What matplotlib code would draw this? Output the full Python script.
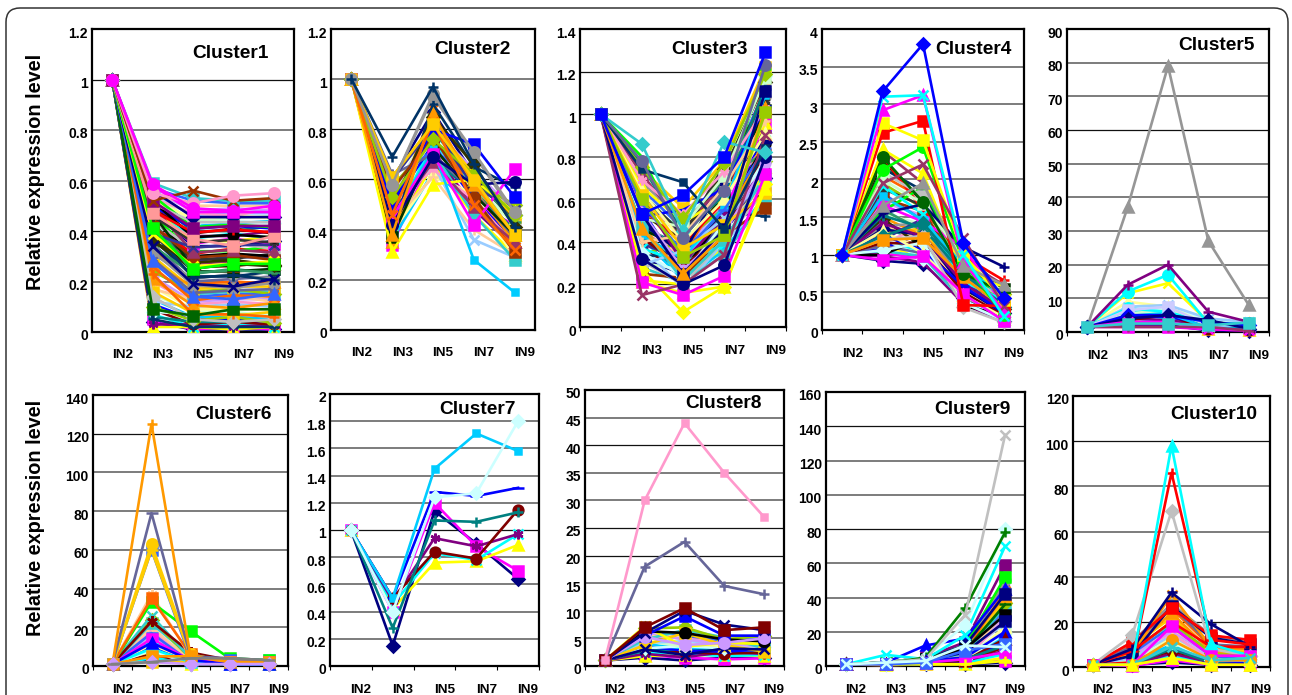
import matplotlib
matplotlib.use('Agg')
import matplotlib.pyplot as plt
from matplotlib.patches import FancyBboxPatch
from matplotlib.transforms import ScaledTranslation, IdentityTransform

plt.rcParams['font.family'] = ['Liberation Sans', 'DejaVu Sans']
plt.rcParams['font.weight'] = 'bold'

W, H = 1292, 695
stages = ['IN2', 'IN3', 'IN5', 'IN7', 'IN9']

# excel default series colours / markers
colors = ['#000080', '#FF00FF', '#FFFF00', '#00FFFF', '#800080', '#800000', '#008080', '#0000FF',
          '#00CCFF', '#CCFFFF', '#CCFFCC', '#FFFF99', '#99CCFF', '#FF99CC', '#CC99FF', '#FFCC99',
          '#3366FF', '#33CCCC', '#99CC00', '#FFCC00', '#FF9900', '#FF6600', '#666699', '#969696',
          '#003366', '#339966', '#003300', '#333300', '#993300', '#993366', '#333399', '#333333',
          '#000000', '#FF0000', '#00FF00', '#C0C0C0']
markers = ['D', 's', '^', 'x', (6, 2, 0), 'o', '+', '_', 's']

# cluster 1
c1_rows = [
    [1, .04, .01, .01, .01], [1, .05, .01, .02, .01], [1, .02, .02, .01, .02], [1, .07, .02, .03, .02],
    [1, .03, .03, .02, .03], [1, .09, .03, .04, .03], [1, .06, .04, .04, .05], [1, .11, .05, .05, .04],
    [1, .13, .06, .06, .05], [1, .08, .07, .07, .07], [1, .15, .08, .08, .06], [1, .18, .09, .09, .09],
    [1, .12, .10, .11, .10], [1, .20, .11, .12, .11], [1, .22, .12, .13, .13], [1, .17, .13, .14, .12],
    [1, .25, .14, .15, .15], [1, .28, .15, .16, .16], [1, .24, .16, .17, .15], [1, .30, .17, .18, .18],
    [1, .27, .18, .19, .20], [1, .33, .19, .20, .19], [1, .35, .20, .21, .22], [1, .31, .21, .23, .21],
    [1, .37, .22, .22, .24], [1, .34, .23, .25, .23], [1, .39, .24, .24, .25], [1, .36, .25, .27, .26],
    [1, .41, .26, .26, .28], [1, .38, .27, .28, .27], [1, .43, .28, .30, .29], [1, .40, .29, .29, .31],
    [1, .45, .30, .31, .30], [1, .42, .31, .33, .32], [1, .46, .32, .32, .34], [1, .44, .33, .35, .33],
    [1, .48, .34, .34, .36], [1, .47, .35, .37, .35], [1, .49, .36, .36, .38], [1, .50, .37, .39, .37],
    [1, .51, .38, .38, .40], [1, .49, .39, .41, .39], [1, .52, .40, .40, .42], [1, .50, .41, .42, .41],
    [1, .53, .42, .43, .44], [1, .51, .43, .44, .43], [1, .54, .44, .45, .46], [1, .52, .45, .46, .45],
    [1, .55, .46, .47, .47], [1, .53, .47, .46, .49], [1, .56, .48, .49, .48], [1, .55, .50, .50, .50],
    [1, .57, .52, .51, .51], [1, .59, .53, .52, .52],
    [1, .10, .045, .06, .035], [1, .16, .075, .065, .08], [1, .21, .105, .095, .115], [1, .26, .125, .145, .14],
    [1, .29, .155, .165, .17], [1, .32, .185, .175, .195], [1, .40, .215, .225, .205], [1, .44, .235, .245, .235],
    [1, .47, .255, .265, .275], [1, .36, .275, .285, .265], [1, .42, .295, .305, .285], [1, .50, .315, .325, .315],
    [1, .39, .335, .345, .345], [1, .46, .355, .365, .355], [1, .52, .375, .385, .375], [1, .48, .395, .405, .395],
    [1, .54, .415, .425, .415], [1, .51, .435, .435, .435], [1, .56, .455, .455, .455], [1, .58, .475, .475, .475],
]
c1_top = [[1, .05, .02, .02, .02], [1, .14, .05, .04, .05], [1, .23, .07, .07, .06], [1, .09, .065, .09, .09],
          [1, .28, .14, .13, .15], [1, .34, .19, .18, .21], [1, .39, .26, .27, .28], [1, .41, .25, .27, .27],
          [1, .47, .37, .34, .38], [1, .52, .41, .42, .42], [1, .52, .56, .52, .53], [1, .55, .51, .54, .55],
          [1, .585, .49, .48, .50]]
c1_top_colors = ['#003366', '#C0C0C0', '#FF6600', '#006600', '#3366FF', '#000080', '#FFFF00', '#00FF00', '#FF9999',
                 '#800080', '#993300', '#FF99CC', '#FF00FF']
c1_top_markers = ['+', 'D', '+', 's', '^', 'x', 'x', 's', 's', 's', 'x', 'o', 'o']

# cluster 2
c2_rows = [
    [1, .60, .87, .62, .46], [1, .34, .70, .50, .42], [1, .38, .66, .46, .30], [1, .42, .75, .57, .37],
    [1, .40, .72, .48, .33], [1, .44, .82, .60, .44], [1, .47, .68, .55, .40], [1, .50, .74, .52, .36],
    [1, .36, .63, .50, .32], [1, .48, .78, .63, .46], [1, .53, .84, .58, .42], [1, .39, .62, .54, .29],
    [1, .46, .66, .36, .29], [1, .50, .64, .52, .34], [1, .55, .80, .64, .47], [1, .43, .61, .40, .30],
    [1, .58, .72, .60, .38], [1, .41, .71, .46, .28], [1, .57, .76, .59, .50], [1, .61, .82, .62, .45],
    [1, .35, .87, .56, .35], [1, .46, .88, .51, .33], [1, .62, .70, .55, .37], [1, .58, .93, .70, .46],
    [1, .39, .90, .65, .57], [1, .52, .79, .61, .43], [1, .37, .73, .54, .38], [1, .49, .85, .66, .41],
    [1, .56, .77, .53, .31], [1, .45, .67, .49, .35], [1, .60, .81, .57, .48],
]
c2_top = [[1, .31, .58, .60, .47], [1, .44, .72, .28, .15], [1, .50, .80, .74, .53], [1, .45, .70, .42, .64],
          [1, .42, .69, .58, .59], [1, .53, .76, .62, .46], [1, .38, .86, .58, .38], [1, .46, .83, .50, .32],
          [1, .61, .82, .60, .38], [1, .58, .94, .71, .47], [1, .69, .97, .66, .41]]
c2_top_colors = ['#FFFF00', '#00CCFF', '#0000FF', '#FF00FF', '#000080', '#99CC00', '#FF9900', '#FF6600', '#FFCC00',
                 '#969696', '#003366']
c2_top_markers = ['^', 's', 's', 's', 'o', 'D', '^', 'x', 's', 'o', '+']

# cluster 3
c3_rows = [
    [1, .32, .25, .45, .70], [1, .50, .30, .55, .95], [1, .22, .20, .38, .75], [1, .40, .33, .52, .88],
    [1, .60, .42, .70, 1.05], [1, .36, .28, .42, .65], [1, .47, .38, .60, 1.10], [1, .55, .26, .50, .92],
    [1, .42, .22, .36, .62], [1, .62, .48, .72, 1.18], [1, .30, .27, .46, .80], [1, .70, .52, .75, 1.00],
    [1, .38, .18, .40, .58], [1, .58, .44, .63, .85], [1, .44, .36, .58, .72], [1, .52, .31, .48, .66],
    [1, .65, .46, .68, 1.12], [1, .28, .21, .34, .60], [1, .34, .40, .56, .78], [1, .74, .56, .78, 1.22],
    [1, .48, .24, .44, .90], [1, .57, .34, .64, .98], [1, .41, .29, .50, .68], [1, .68, .50, .66, 1.08],
    [1, .33, .35, .54, .52], [1, .60, .45, .70, .82], [1, .46, .37, .62, 1.02], [1, .53, .41, .74, 1.15],
    [1, .25, .23, .43, .56], [1, .72, .47, .67, .94], [1, .39, .32, .47, .75], [1, .63, .43, .76, 1.06],
    [1, .45, .26, .53, .86], [1, .56, .39, .59, 1.14], [1, .80, .42, .64, 1.21], [1, .31, .20, .41, .64],
    [1, .49, .34, .69, .87], [1, .59, .33, .43, 1.00], [1, .66, .49, .61, .96], [1, .37, .30, .39, .72],
    [1, .61, .30, .52, .74], [1, .42, .28, .45, .83], [1, .76, .44, .62, 1.13], [1, .52, .55, .65, 1.04],
    [1, .43, .32, .57, 1.09], [1, .35, .24, .49, .79], [1, .51, .47, .71, 1.17], [1, .64, .40, .60, .91],
    [1, .29, .36, .51, .69], [1, .69, .53, .73, 1.03], [1, .54, .27, .44, .77], [1, .40, .43, .66, .97],
    [1, .58, .35, .55, .84], [1, .47, .22, .41, .71], [1, .75, .51, .77, 1.19], [1, .62, .37, .48, .63],
]
c3_top = [[1, .27, .07, .19, .67], [1, .21, .16, .19, .65], [1, .21, .15, .24, .72], [1, .15, .20, .34, .90],
          [1, .32, .20, .29, .80], [1, .53, .25, .46, 1.11], [1, .46, .25, .43, 1.03], [1, .60, .33, .43, 1.01],
          [1, .74, .68, .46, .84], [1, .86, .45, .87, .82], [1, .78, .42, .64, 1.23], [1, .53, .62, .80, 1.29]]
c3_top_colors = ['#FFFF00', '#FFFF00', '#FF00FF', '#993366', '#000080', '#000080', '#FF9900', '#99CC00', '#003366',
                 '#33CCCC', '#666699', '#0000FF']
c3_top_markers = ['D', '^', 's', 'x', 'o', 's', '^', 's', 's', 'D', 'o', 's']

# cluster 4
c4_rows = [
    [1, .92, .88, .42, .12], [1, 1.02, .95, .50, .18], [1, 1.10, 1.00, .46, .15], [1, 1.18, 1.05, .60, .22],
    [1, .98, .90, .35, .10], [1, 1.25, 1.12, .55, .28], [1, 1.35, 1.20, .70, .30], [1, 1.08, 1.30, .62, .20],
    [1, 1.45, 1.15, .75, .35], [1, 1.22, .95, .40, .14], [1, 1.55, 1.40, .80, .42], [1, 1.30, 1.08, .52, .25],
    [1, 1.62, 1.28, .68, .38], [1, 1.15, 1.38, .48, .16], [1, 1.70, 1.52, .85, .45], [1, 1.40, 1.18, .58, .32],
    [1, 1.82, 1.45, .72, .40], [1, 1.05, .98, .38, .12], [1, 1.95, 1.62, .90, .48], [1, 1.28, 1.35, .65, .26],
    [1, 1.50, 1.25, .78, .36], [1, 2.05, 1.75, .95, .52], [1, 1.12, 1.02, .44, .18], [1, 1.38, 1.42, .60, .30],
    [1, 2.15, 1.85, .82, .50], [1, 1.60, 1.32, .88, .42], [1, 2.25, 1.70, 1.00, .55], [1, 1.48, 1.10, .54, .28],
    [1, 1.75, 1.58, .76, .34], [1, 2.38, 1.95, .92, .60], [1, 1.20, 1.48, .66, .24], [1, 1.88, 1.65, 1.05, .46],
    [1, 1.00, 1.22, .32, .20], [1, 2.30, 1.60, .98, .66], [1, 1.58, 1.90, .84, .38], [1, 2.10, 1.78, .70, .44],
    [1, 1.34, 1.26, .56, .22], [1, 1.66, 1.44, 1.10, .32], [1, 2.40, 2.08, .74, .58], [1, 1.92, 1.54, .64, .40],
    [1, 1.42, 1.24, .62, .27], [1, 1.16, 1.14, .50, .19], [1, 1.52, 1.36, .74, .33], [1, 1.26, 1.06, .58, .23],
    [1, 1.78, 1.46, .86, .43], [1, 1.06, 1.16, .36, .13], [1, 2.00, 1.68, .96, .49], [1, 1.32, 1.02, .46, .17],
]
c4_top = [[1, 1.20, 1.25, .30, .10], [1, .93, .98, .48, .12], [1, 1.55, 1.67, 1.10, .84], [1, 1.25, 1.42, .80, .30],
          [1, 1.20, 1.22, .70, .30], [1, 2.30, 1.70, .75, .50], [1, 2.13, 2.43, .90, .20], [1, 2.62, 2.78, .33, .32],
          [1, 2.75, 2.52, 1.00, .40], [1, 2.92, 3.12, .90, .25], [1, 1.65, 1.95, .85, .60], [1, 1.95, 2.20, 1.22, .32],
          [1, 3.10, 3.12, 1.00, .18], [1, 3.17, 3.80, 1.15, .42]]
c4_top_colors = ['#C0C0C0', '#FF00FF', '#000080', '#008080', '#FF9900', '#006600', '#00FF00', '#FF0000', '#FFFF00',
                 '#FF00FF', '#969696', '#993366', '#00FFFF', '#0000FF']
c4_top_markers = ['D', 's', '+', 'D', 's', 'o', 'o', 's', 's', '^', '^', 'x', 'x', 'D']

# cluster 5
c5_rows = [
    [1.5, 2.0, 2.0, .5, .3], [1.5, 1.5, 1.5, .8, .5], [1.5, 3.0, 3.0, 1.0, .6], [1.5, 2.5, 4.0, 1.5, .8],
    [1.5, 4.0, 3.5, 2.0, 1.0], [1.5, 3.5, 5.0, .8, .5], [1.5, 5.0, 6.0, 1.6, 1.2], [1.5, 4.5, 4.5, 2.5, 1.5],
    [1.5, 6.0, 5.5, 1.2, 2.0], [1.5, 7.0, 7.0, 3.5, 2.2], [1.5, 5.5, 6.5, 2.0, 2.6], [1.5, 9.0, 7.5, 2.2, 2.8],
    [1.5, 7.5, 8.0, 4.0, 3.0],
]
c5_top = [[1.5, 11.5, 14.5, 3.0, 2.0], [1.5, 12.0, 17.0, 2.5, 2.6], [1.5, 14.0, 20.0, 6.0, 3.0], [1.5, 37.0, 79.0, 27.0, 8.0],
          [1.5, 7.0, 6.0, 2.5, 2.5], [1.5, 6.5, 7.5, 2.0, 2.0], [1.5, 5.0, 5.0, 3.0, 2.0], [1.5, 4.0, 5.0, 3.5, 1.0],
          [1.5, 3.0, 3.0, .8, .5], [1.5, 1.5, 1.5, 1.5, .4], [1.5, 2.5, 2.5, 2.0, 2.8]]
c5_top_colors = ['#FFFF00', '#00FFFF', '#800080', '#969696', '#00FFFF', '#CCCCFF', '#0000FF', '#000080', '#FF00FF',
                 '#993366', '#33CCCC']
c5_top_markers = ['x', 'o', '+', '^', 'o', 's', 'D', 'D', 'x', '+', 's']

# cluster 6
c6_rows = [
    [1, 3, 1, 1, 1], [1, 5, 2, 1, 1], [1, 7, 1, 2, 1], [1, 4, 3, 1, 1], [1, 9, 2, 1, 1], [1, 6, 2, 2, 1],
    [1, 12, 3, 2, 2], [1, 10, 2, 1, 1], [1, 14, 3, 1, 2], [1, 8, 1, 1, 1], [1, 16, 4, 2, 2], [1, 11, 3, 2, 1],
    [1, 13, 2, 2, 2], [1, 18, 4, 2, 2], [1, 15, 3, 1, 1], [1, 20, 3, 2, 2], [1, 17, 2, 2, 2], [1, 22, 5, 3, 3],
    [1, 24, 4, 2, 1], [1, 2, 2, 2, 1],
]
c6_top = [[1, 26, 4, 2, 2], [1, 23, 7, 3, 2], [1, 37, 5, 2, 2], [1, 33, 18, 4, 3], [1, 35, 6, 2, 2], [1, 60, 4, 3, 2],
          [1, 60, 5, 2, 2], [1, 63, 6, 2, 2], [1, 79, 5, 4, 3], [1, 125, 5, 2, 2], [1, 14, 3, 2, 2], [1, 9, 2, 1, 1],
          [1, 12, 3, 1, 1], [1, 5, 5, 2, 2], [1, 2, 1, 1, 1], [1, 2, 4, 4, 3]]
c6_top_colors = ['#33CCCC', '#800000', '#FFCC99', '#00FF00', '#FF6600', '#3366FF', '#FFCC00', '#FFCC00', '#666699',
                 '#FF9900', '#FF00FF', '#00FFFF', '#0000FF', '#FF9900', '#CC99FF', '#808080']
c6_top_markers = ['x', (6, 2, 0), (6, 2, 0), 's', 's', 's', '_', 'o', '_', '+', 's', 's', '^', 's', 'D', '_']

# cluster 7
c7_rows = [
    [1, .15, 1.14, .90, .64], [1, .40, 1.20, .88, .70], [1, .42, .76, .77, .89], [1, .45, .83, .78, .97],
    [1, .48, .94, .88, .97], [1, .50, .84, .79, 1.15], [1, .28, 1.07, 1.06, 1.13], [1, .50, 1.28, 1.25, 1.31],
    [1, .50, 1.45, 1.71, 1.58], [1, .40, 1.24, 1.27, 1.80],
]

# cluster 8
c8_rows = [
    [1, 1.5, 1.0, 1.5, 1.5], [1, 2.0, 1.5, 1.2, 1.4], [1, 1.8, 2.0, 2.0, 1.8], [1, 2.5, 2.2, 1.8, 2.0],
    [1, 2.2, 1.6, 2.5, 2.2], [1, 3.0, 2.5, 2.2, 2.5], [1, 2.8, 3.0, 3.0, 2.8], [1, 3.5, 2.8, 2.6, 3.0],
    [1, 4.0, 3.2, 3.5, 3.2], [1, 3.2, 3.6, 3.2, 3.5], [1, 4.5, 3.5, 4.0, 3.8], [1, 5.0, 4.0, 3.6, 4.0],
    [1, 4.2, 4.5, 4.2, 4.2], [1, 5.5, 5.0, 4.5, 4.5], [1, 6.0, 4.8, 4.0, 3.5], [1, 5.2, 6.0, 5.0, 5.0],
    [1, 6.5, 5.5, 4.6, 5.2], [1, 4.8, 6.5, 5.2, 3.2], [1, 6.8, 7.0, 4.8, 5.5], [1, 3.8, 6.0, 3.8, 2.6],
]
c8_top = [[1, 7.2, 3.5, 4.2, 4.0], [1, 3.0, 2.0, 3.2, 3.0], [1, 6.3, 6.0, 4.8, 4.5], [1, 5.5, 9.0, 5.5, 5.5], [1, 5.3, 3.8, 4.2, 5.0],
          [1, 6.0, 10.0, 7.5, 6.5], [1, 7.0, 10.5, 6.5, 7.0], [1, 18.0, 22.5, 14.5, 13.0], [1, 30.0, 44.0, 35.0, 27.0]]
c8_top_colors = ['#FFFF00', '#000080', '#000000', '#0000FF', '#CC99FF', '#000080', '#800000', '#666699', '#FF99CC']
c8_top_markers = ['x', 'x', 'o', 's', 'o', 'x', 's', '+', 's']

# cluster 9
c9_rows = [
    [1, 1, 1, 1, 2], [1, 1, 1, 2, 3], [1, .5, 1, 1, 5], [1, 1, 2, 2, 7], [1, .5, 1, 3, 9], [1, 1, 2, 3, 11],
    [1, 1, 1, 4, 13], [1, 1, 2, 2, 15], [1, 1, 3, 5, 17], [1, 1, 2, 4, 19], [1, 1, 2, 6, 21], [1, 1, 3, 3, 23],
    [1, 1, 2, 7, 25], [1, 1, 3, 5, 27], [1, 1, 4, 8, 29], [1, 2, 2, 6, 31], [1, 1, 3, 9, 33], [1, 1, 4, 7, 35],
    [1, 2, 3, 10, 37], [1, 1, 5, 8, 39], [1, 2, 4, 11, 41], [1, 1, 3, 9, 44], [1, 2, 5, 12, 47], [1, 2, 4, 10, 50],
]
c9_top = [[1, 2, 5, 14, 59], [1, 2, 4, 12, 52], [1, 2, 12, 16, 45], [1, 1, 4, 12, 42], [1, 2, 5, 9, 36], [1, 1, 4, 10, 30],
          [1, 1, 3, 8, 26], [1, 6.5, 4, 18, 70], [1, 2, 5, 24, 80], [1, 1.5, 5, 34, 78], [1, 2, 4, 30, 135],
          [1, 1, 3, 5, 20], [1, 1, 2, 3, 16], [1, 1, 2, 4, 12], [1, 1, 2, 4, 8], [1, 1, 1, 1, 3], [1, 1, 2, 9, 13],
          [1, 2, 3, 12, 11]]
c9_top_colors = ['#800080', '#00FF00', '#0000FF', '#000080', '#006600', '#000000', '#000080', '#00FFFF', '#CCFFFF',
                 '#008000', '#C0C0C0', '#0000FF', '#800000', '#008080', '#FF00FF', '#FFFF00', '#3366FF', '#CCFFFF']
c9_top_markers = ['s', 's', '^', 's', '_', 's', 's', 'x', 'D', '+', 'x', '^', '^', 'x', 's', '+', 's', 'x']

# cluster 10
c10_rows = [
    [1, 1, 2, 1, 1], [1, .5, 3, 1, 1], [1, 1, 4, 2, 1], [1, 2, 5, 1, 2], [1, 1, 6, 2, 2], [1, 2, 7, 3, 2],
    [1, 1, 8, 2, 3], [1, 3, 9, 3, 2], [1, 2, 10, 4, 3], [1, 4, 11, 3, 3], [1, 3, 12, 4, 4], [1, 5, 13, 5, 3],
    [1, 4, 14, 4, 4], [1, 6, 15, 3, 5], [1, 5, 16, 5, 4], [1, 7, 17, 6, 5], [1, 6, 18, 5, 3], [1, 8, 19, 7, 6],
    [1, 7, 20, 6, 5], [1, 9, 22, 8, 7], [1, 8, 24, 7, 6], [1, 10, 26, 9, 8], [1, 9, 27, 10, 9], [1, 11, 28, 14, 11],
]
c10_top = [[1, 6, 32, 9, 5], [1, 5, 27, 13, 10], [1, 11, 26, 14, 12], [1, 7, 20, 9, 9], [1, 8, 33, 19, 9], [1, 14, 69, 8, 5],
           [1, 2, 86, 12, 10], [1, 1, 98, 10, 5], [1, 1, 18, 5, 5], [1, 1, 12, 3, 3], [1, 1, 9, 3, 4], [1, 1, 4, 1, 1]]
c10_top_colors = ['#FF9900', '#000080', '#FF0000', '#FF0000', '#000080', '#C0C0C0', '#FF0000', '#00FFFF', '#FF00FF',
                  '#FF9900', '#33CCCC', '#FFFF00']
c10_top_markers = ['x', 's', 's', '_', '+', 'D', '+', '^', 's', 'o', 'x', '^']

cluster_names = ['Cluster%d' % i for i in range(1, 11)]
ymax_list = [1.2, 1.2, 1.4, 4, 90, 140, 2, 50, 160, 120]
ystep_list = [.2, .2, .2, .5, 10, 20, .2, 5, 20, 20]
rows_list = [c1_rows, c2_rows, c3_rows, c4_rows, c5_rows, c6_rows, c7_rows, c8_rows, c9_rows, c10_rows]
top_list = [c1_top, c2_top, c3_top, c4_top, c5_top, c6_top, [], c8_top, c9_top, c10_top]
top_colors = [c1_top_colors, c2_top_colors, c3_top_colors, c4_top_colors, c5_top_colors, c6_top_colors, [],
              c8_top_colors, c9_top_colors, c10_top_colors]
top_markers = [c1_top_markers, c2_top_markers, c3_top_markers, c4_top_markers, c5_top_markers, c6_top_markers, [],
               c8_top_markers, c9_top_markers, c10_top_markers]

# panel boxes in pixels: left, right, top, bottom
boxes = [(92, 294, 29, 332), (331, 535, 29, 330), (580, 786, 29, 327), (822, 1024, 29, 330), (1067, 1269, 29, 332),
         (93, 288, 395, 666), (330, 539, 394, 666), (585, 784, 390, 666), (826, 1025, 392, 666), (1073, 1270, 396, 667)]
title_pos = [(230, 53), (472, 49), (709, 49), (973, 50), (1216, 45),
             (233, 415), (477, 410), (724, 404), (972, 409), (1214, 415)]
label_pad = [15, 15, 16, 16, 16, 16, 16, 16, 16, 15]
# darker gridlines, bottom to top; the others came out grey in the scan
dark_lines = [[.4, 1], [.6, .8], [.2, .4, 1, 1.2], [1], [60], [120], [1], [20, 25, 40], [80, 140], [20, 100]]


def fmt(v):
    return ('%.1f' % v).rstrip('0').rstrip('.')


def draw_series(ax, y, color, marker, big=7.0, clip=False):
    ms = big
    if marker == '_':
        ms = big + 1
    if marker == 's' and color in ('#00CCFF', '#003366', '#FF99CC'):
        ms = big * .6
    if marker == 'D':
        ms = big * .85
    ax.plot(range(5), y, color=color, lw=1.9, marker=marker, ms=ms, mew=1.8, mfc=color, mec=color,
            clip_on=clip, zorder=3)


fig = plt.figure(figsize=(W / 100, H / 100), dpi=100)
fig.add_artist(FancyBboxPatch((6, -30), 1282, H - 8 + 30, boxstyle='round,pad=0,rounding_size=14',
                              fc='none', ec='#333333', lw=1.1, transform=IdentityTransform()))

for i, name in enumerate(cluster_names):
    l, r, t, b = boxes[i]
    ax = fig.add_axes([l / W, 1 - b / H, (r - l) / W, (b - t) / H])
    ax.set_xlim(-.5, 4.5)
    ax.set_ylim(0, ymax_list[i])
    n = round(ymax_list[i] / ystep_list[i])
    yt = [k * ystep_list[i] for k in range(n + 1)]
    for v in yt[1:-1]:
        dark = any(abs(v - d) < 1e-6 for d in dark_lines[i])
        ax.axhline(v, color='#111111' if dark else '#666666', lw=.9 if dark else 1.2, zorder=1)
    ax.set_yticks(yt)
    ax.set_yticklabels([fmt(v) for v in yt], fontsize=10, fontweight='bold')
    ax.set_xticks(range(5))
    ax.set_xticklabels(stages, fontsize=9.7, fontweight='bold')
    ax.tick_params(axis='y', length=0, pad=3)
    ax.tick_params(axis='x', length=0, pad=label_pad[i] - 3)
    if i >= 2:
        ax.set_xticks([k - .5 for k in range(6)], minor=True)
        ax.tick_params(axis='x', which='minor', length=3, width=.8)
    dx = ScaledTranslation(10 / 100, 0, fig.dpi_scale_trans)
    dy = ScaledTranslation(0, -3 / 100, fig.dpi_scale_trans)
    for lab in ax.get_xticklabels():
        lab.set_transform(lab.get_transform() + dx)
    for lab in ax.get_yticklabels():
        lab.set_transform(lab.get_transform() + dy)
    for sp in ax.spines.values():
        sp.set_linewidth(1.6)

    clip = i == 0
    for j, y in enumerate(rows_list[i]):
        draw_series(ax, y, colors[j % len(colors)], markers[j % len(markers)], clip=clip)
    for y, c, m in zip(top_list[i], top_colors[i], top_markers[i]):
        draw_series(ax, y, c, m, big=7.5, clip=clip)

    fig.text(title_pos[i][0] / W, 1 - title_pos[i][1] / H, name, fontsize=13.8, fontweight='bold',
             ha='center', va='center', zorder=10)

fig.text(36 / W, 1 - 172 / H, 'Relative expression level', rotation=90, fontsize=14.3, fontweight='bold',
         ha='center', va='center')
fig.text(36 / W, 1 - 518 / H, 'Relative expression level', rotation=90, fontsize=14.3, fontweight='bold',
         ha='center', va='center')

fig.savefig('out.png', dpi=100)
